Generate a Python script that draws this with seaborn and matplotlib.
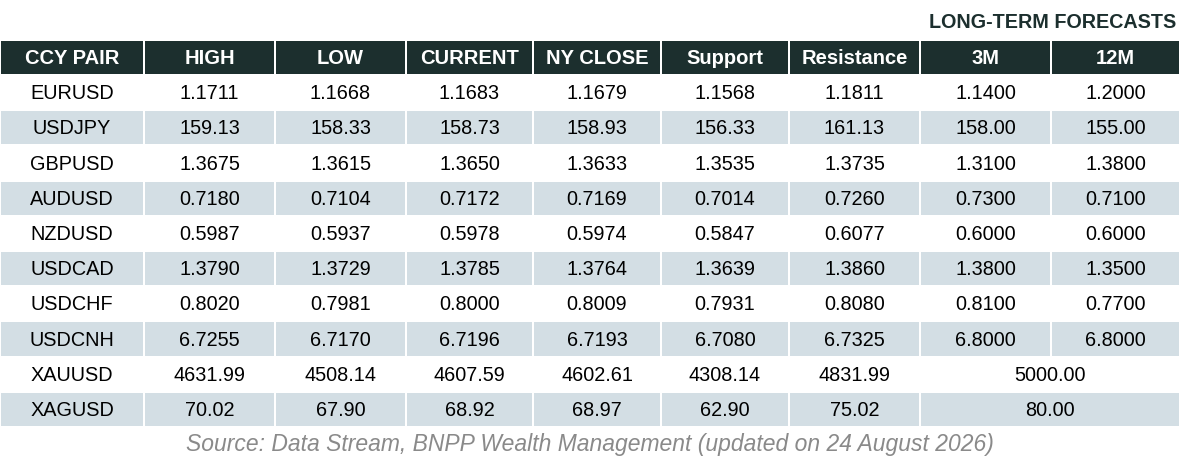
import matplotlib.pyplot as plt
import seaborn as sns

columns = ["CCY PAIR", "HIGH", "LOW", "CURRENT", "NY CLOSE", "Support", "Resistance", "3M", "12M"]
pairs = ["EURUSD", "USDJPY", "GBPUSD", "AUDUSD", "NZDUSD", "USDCAD", "USDCHF", "USDCNH", "XAUUSD", "XAGUSD"]
high = ["1.1711", "159.13", "1.3675", "0.7180", "0.5987", "1.3790", "0.8020", "6.7255", "4631.99", "70.02"]
low = ["1.1668", "158.33", "1.3615", "0.7104", "0.5937", "1.3729", "0.7981", "6.7170", "4508.14", "67.90"]
current = ["1.1683", "158.73", "1.3650", "0.7172", "0.5978", "1.3785", "0.8000", "6.7196", "4607.59", "68.92"]
ny_close = ["1.1679", "158.93", "1.3633", "0.7169", "0.5974", "1.3764", "0.8009", "6.7193", "4602.61", "68.97"]
support = ["1.1568", "156.33", "1.3535", "0.7014", "0.5847", "1.3639", "0.7931", "6.7080", "4308.14", "62.90"]
resistance = ["1.1811", "161.13", "1.3735", "0.7260", "0.6077", "1.3860", "0.8080", "6.7325", "4831.99", "75.02"]
f3m = ["1.1400", "158.00", "1.3100", "0.7300", "0.6000", "1.3800", "0.8100", "6.8000", "5000.00", "80.00"]
f12m = ["1.2000", "155.00", "1.3800", "0.7100", "0.6000", "1.3500", "0.7700", "6.8000", None, None]

title = "LONG-TERM FORECASTS"
source = "Source: Data Stream, BNPP Wealth Management (updated on 24 August 2026)"

# layout (pixels)
edges = [0, 144, 275, 406, 533, 661, 789, 920, 1051, 1180]
head_top, head_bot = 41, 74
row0, pitch, cell_h = 76, 35.2, 33.2

HEAD = "#1c2f2e"
SHADE = "#d3dee4"

sns.set_theme(style="white")
plt.rcParams["font.family"] = ["Liberation Sans", "DejaVu Sans"]

fig = plt.figure(figsize=(11.8, 4.69), dpi=100)
ax = fig.add_axes([0, 0, 1, 1])
ax.set_xlim(0, 1180)
ax.set_ylim(469, 0)
ax.axis("off")

lefts = [e + 1 for e in edges[:-1]]
widths = [edges[i + 1] - edges[i] - 2 for i in range(len(edges) - 1)]

# header
ax.barh((head_top + head_bot) / 2, widths, left=lefts, height=head_bot - head_top,
        color=HEAD, linewidth=0)
for j, name in enumerate(columns):
    ax.text(lefts[j] + widths[j] / 2, (head_top + head_bot) / 2 + 0.5, name, color="white",
            fontsize=14.5, fontweight="bold", ha="center", va="center")

ax.text(1176, 22, title, color=HEAD, fontsize=14.2, fontweight="bold", ha="right", va="center")

table = list(zip(pairs, high, low, current, ny_close, support, resistance, f3m, f12m))
for i, row in enumerate(table):
    yc = row0 + pitch * i + cell_h / 2
    merged = row[-1] is None
    if merged:
        l = lefts[:7] + [lefts[7]]
        w = widths[:7] + [edges[9] - edges[7] - 2]
        vals = list(row[:8])
    else:
        l, w, vals = lefts, widths, list(row)
    if i % 2 == 1:
        ax.barh(yc, w, left=l, height=cell_h, color=SHADE, linewidth=0)
    for x0, ww, v in zip(l, w, vals):
        ax.text(x0 + ww / 2, yc + 1, v, color="black", fontsize=14.3, ha="center", va="center")

ax.text(590, 445, source, color="#8a8a8a", fontsize=16.5, fontstyle="italic",
        ha="center", va="center")

fig.savefig("out.png", dpi=100, facecolor="white")
